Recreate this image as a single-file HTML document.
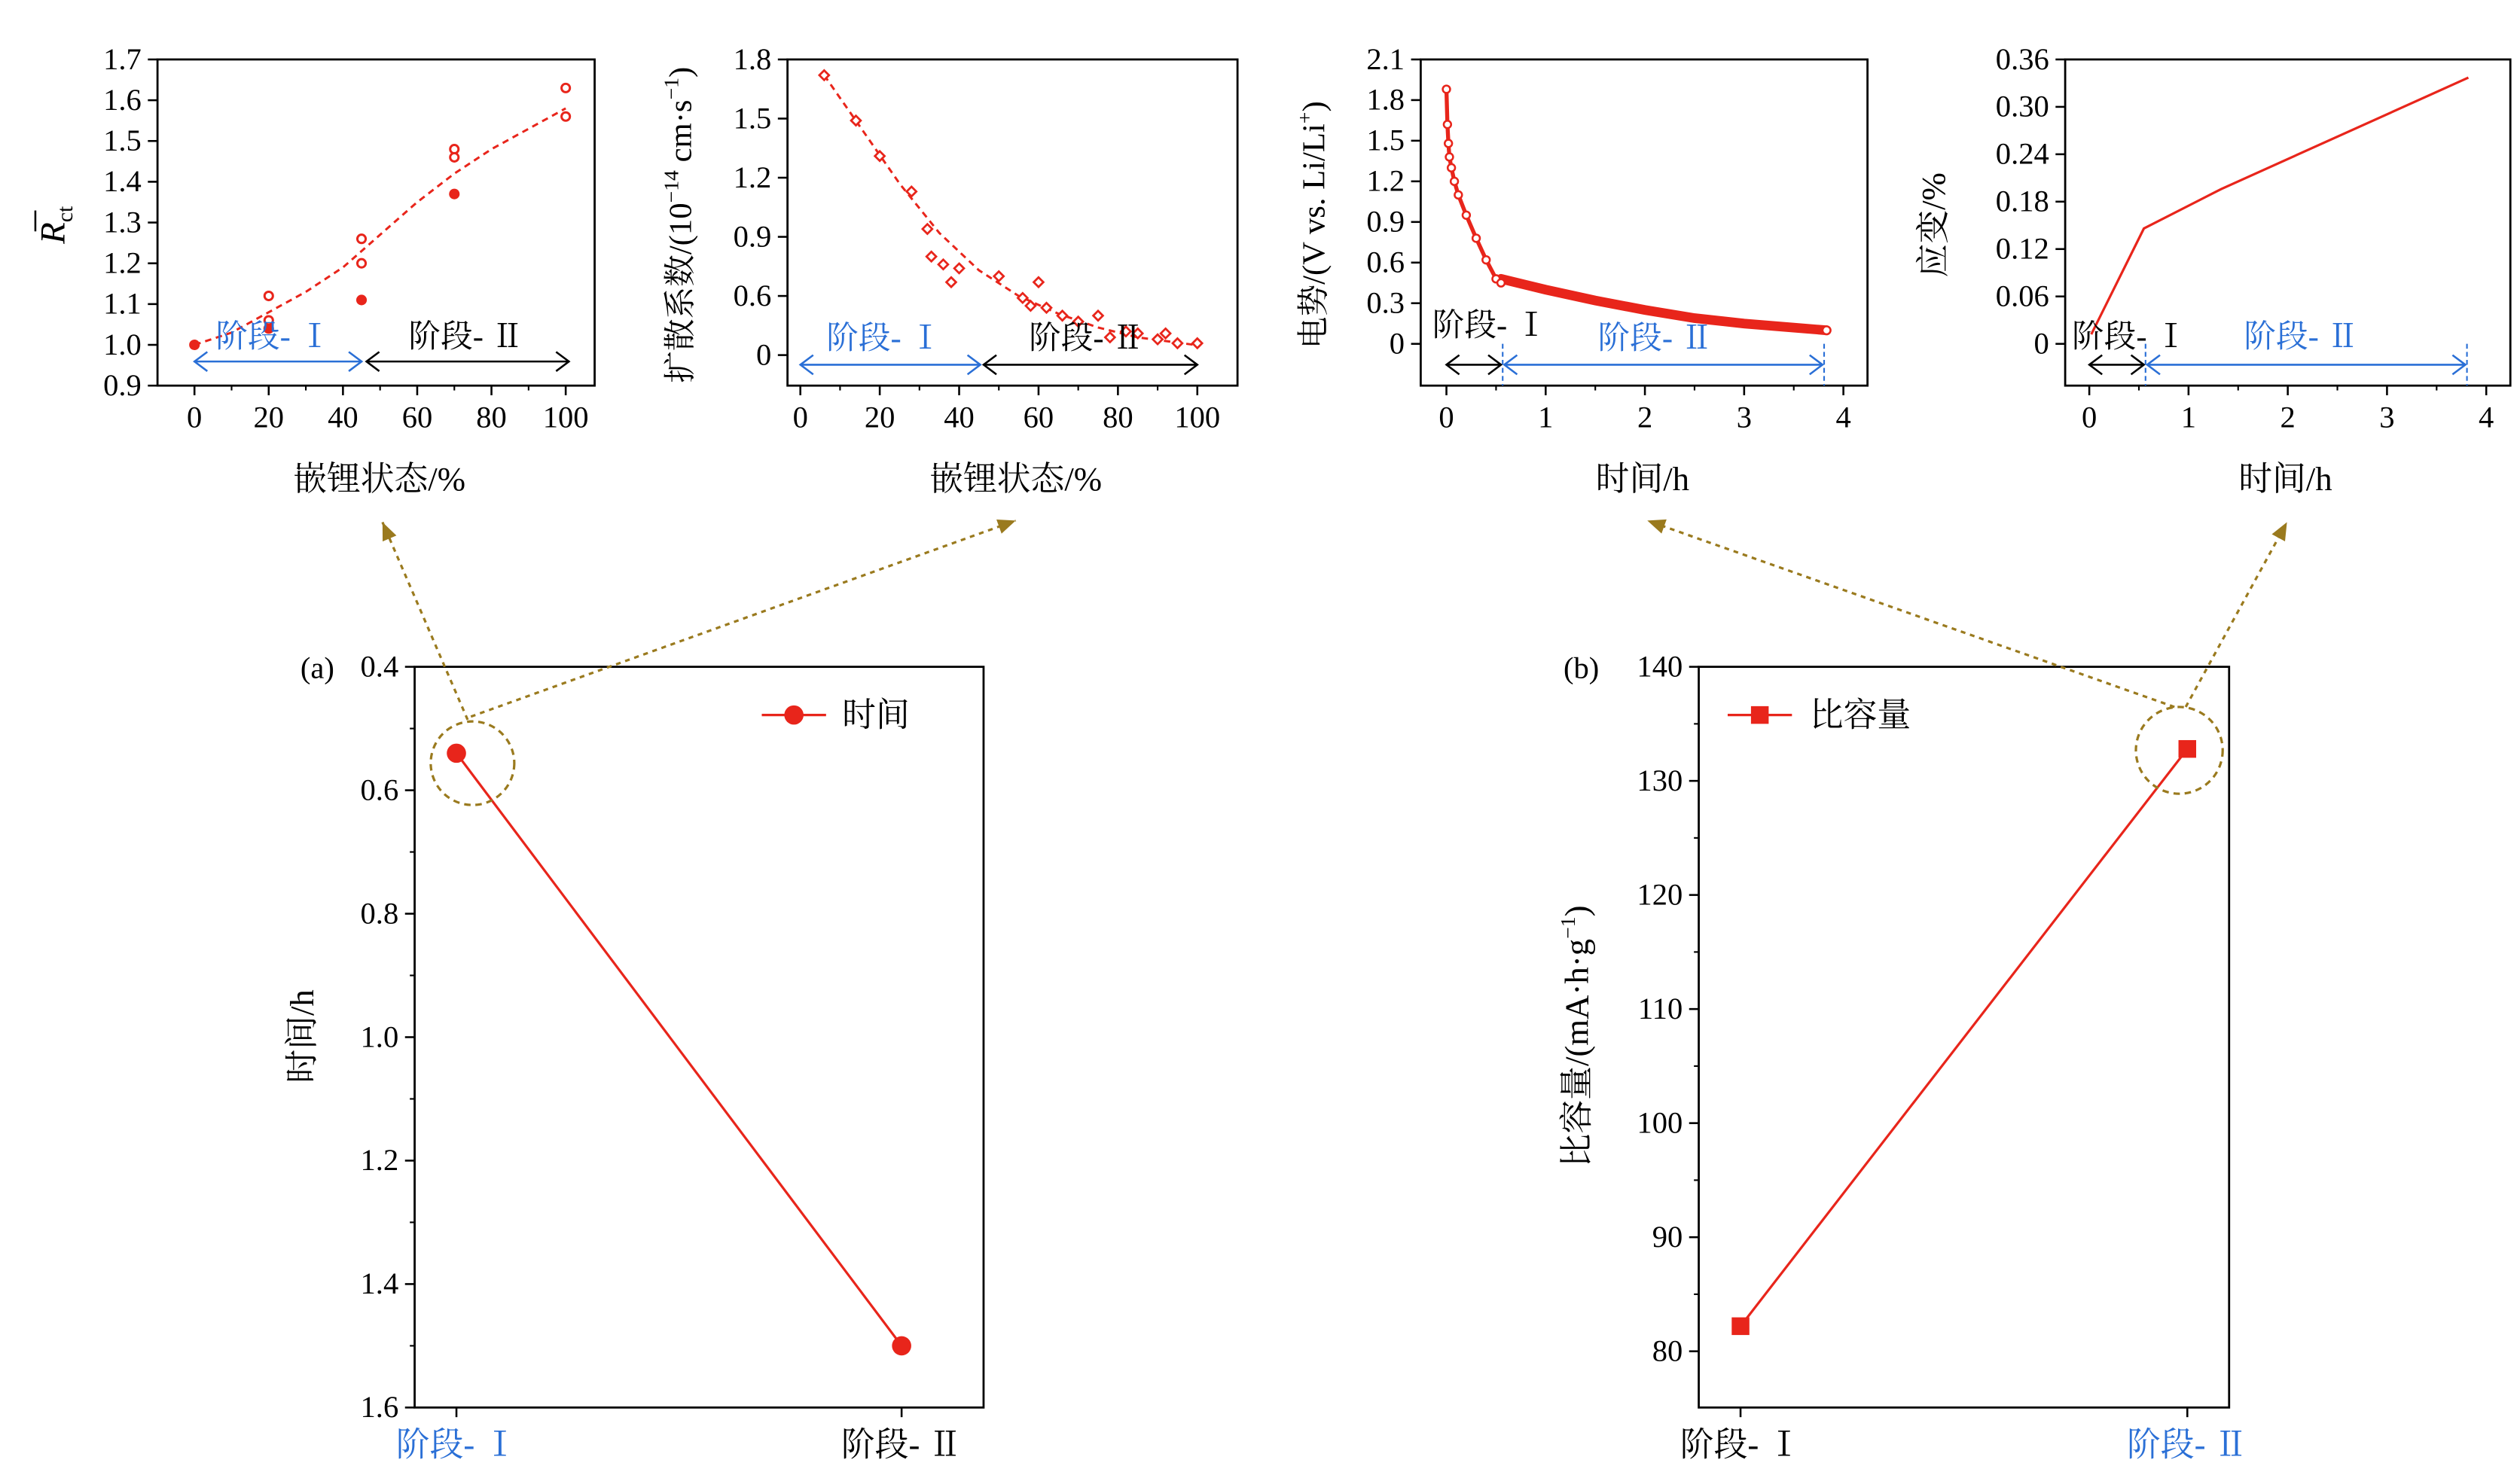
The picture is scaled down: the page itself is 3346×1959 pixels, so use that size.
<!DOCTYPE html>
<html><head><meta charset="utf-8"><style>
html,body{margin:0;padding:0;background:#fff;}
svg{display:block;}
text{font-family:"Liberation Serif","Noto Serif CJK SC",serif;fill:#000;}
</style></head><body>
<svg id="fig" xmlns="http://www.w3.org/2000/svg" width="3346" height="1959" viewBox="0 0 1568 918" preserveAspectRatio="none"></svg>
<script>
// ---- data ----
const p1X = [0,20,20,20,45,45,45,70,70,70,100,100];
const p1Y = [1.0,1.12,1.06,1.04,1.26,1.20,1.11,1.48,1.46,1.37,1.63,1.56];
const p1FitX = [0,10,20,30,40,50,60,70,80,90,100];
const p1FitY = [1.0,1.03,1.08,1.13,1.19,1.27,1.35,1.42,1.48,1.53,1.58];
const p1YTicks = [0.9,1.0,1.1,1.2,1.3,1.4,1.5,1.6,1.7];
const pctTicks = [0,20,40,60,80,100];

const p2X = [6,14,20,28,32,33,36,38,40,50,56,58,60,62,66,70,75,78,82,85,90,92,95,100];
const p2Y = [1.72,1.49,1.31,1.13,0.94,0.80,0.76,0.67,0.74,0.70,0.59,0.55,0.67,0.54,0.50,0.47,0.50,0.39,0.42,0.41,0.38,0.41,0.36,0.36];
const p2FitX = [6,15,25,35,45,55,65,75,85,100];
const p2FitY = [1.72,1.46,1.17,0.92,0.73,0.60,0.51,0.44,0.39,0.35];
const p2YTicks = [0.3,0.6,0.9,1.2,1.5,1.8];
const p2YLabels = ["0","0.6","0.9","1.2","1.5","1.8"];

const p3T = [0,0.01,0.02,0.03,0.05,0.08,0.12,0.2,0.3,0.4,0.5,0.55];
const p3V = [1.88,1.62,1.48,1.38,1.30,1.20,1.10,0.95,0.78,0.62,0.48,0.45];
const p3T2 = [0.55,1,1.5,2,2.5,3,3.5,3.83];
const p3V2 = [0.48,0.40,0.32,0.25,0.19,0.15,0.12,0.10];
const p3YTicks = [0,0.3,0.6,0.9,1.2,1.5,1.8,2.1];
const timeTicks = [0,1,2,3,4];

const p4T = [0.02,0.55,1.33,3.82];
const p4S = [0.012,0.146,0.196,0.337];
const p4YTicks = [0,0.06,0.12,0.18,0.24,0.30,0.36];

const stages = ["阶段- Ⅰ","阶段- Ⅱ"];
const aTime = [0.54,1.50];
const aYTicks = [0.4,0.6,0.8,1.0,1.2,1.4,1.6];
const bCap = [82.2,132.8];
const bYTicks = [80,90,100,110,120,130,140];

const RED = "#e8251b", BLUE = "#2a6fd6", GOLD = "#9a7a1e";
const svg = document.getElementById('fig');
const NS = "http://www.w3.org/2000/svg";
function el(tag, attrs, name, inter, parent){
  const e = document.createElementNS(NS, tag);
  for (const k in attrs) e.setAttribute(k, attrs[k]);
  
  
  (parent||svg).appendChild(e);
  return e;
}
function txt(x,y,s,name,opt){
  opt = opt||{};
  const a = {x:x,y:y,'font-size':opt.fs||19,'text-anchor':opt.anchor||'middle'};
  if (opt.fill) a.fill = opt.fill;
  if (opt.rot) a.transform = `rotate(${opt.rot} ${x} ${y})`;
  const t = el('text', a, name, false);
  t.textContent = s;
  if (opt.fill) t.style.fill = opt.fill;
  return t;
}
function lin(d0,d1,r0,r1){ return v => r0 + (v-d0)/(d1-d0)*(r1-r0); }
function frame(x0,y0,x1,y1,name){
  el('rect',{x:x0,y:y0,width:x1-x0,height:y1-y0,fill:'none',stroke:'#000','stroke-width':1.3},name,false);
}
function yTicks(ticks,ys,x0,labels,name,minor){
  ticks.forEach((v,i)=>{
    const y = ys(v);
    el('line',{x1:x0-6,y1:y,x2:x0,y2:y,stroke:'#000','stroke-width':1.2},name+'-tick',false);
    txt(x0-10,y+6,labels?labels[i]:String(v),name+'-label',{anchor:'end'});
    if (minor && i<ticks.length-1){
      const ym = ys((v+ticks[i+1])/2);
      el('line',{x1:x0-3,y1:ym,x2:x0,y2:ym,stroke:'#000','stroke-width':1},name+'-minor-tick',false);
    }
  });
}
function xTicks(ticks,xs,y0,name,minor){
  ticks.forEach((v,i)=>{
    const x = xs(v);
    el('line',{x1:x,y1:y0,x2:x,y2:y0+6,stroke:'#000','stroke-width':1.2},name+'-tick',false);
    txt(x,y0+26,String(v),name+'-label');
    if (minor && i<ticks.length-1){
      const xm = xs((v+ticks[i+1])/2);
      el('line',{x1:xm,y1:y0,x2:xm,y2:y0+3,stroke:'#000','stroke-width':1},name+'-minor-tick',false);
    }
  });
}
function path(xsArr,ysArr,xs,ys){
  return xsArr.map((v,i)=>(i?'L':'M')+xs(v).toFixed(2)+','+ys(ysArr[i]).toFixed(2)).join(' ');
}
function dblArrow(x0,x1,y,color,name){
  el('line',{x1:x0,y1:y,x2:x1,y2:y,stroke:color,'stroke-width':1.2},name,false);
  el('path',{d:`M${x0+8},${y-6} L${x0},${y} L${x0+8},${y+6}`,fill:'none',stroke:color,'stroke-width':1.2},name+'-head-left',false);
  el('path',{d:`M${x1-8},${y-6} L${x1},${y} L${x1-8},${y+6}`,fill:'none',stroke:color,'stroke-width':1.2},name+'-head-right',false);
}

// ---- panel 1 ----
{
  const xs = lin(0,100,121,352), ys = lin(0.9,1.7,240,37);
  frame(98,37,370,240,'rct-plot-frame');
  yTicks(p1YTicks,ys,98,p1YTicks.map(v=>v.toFixed(1)),'rct-y-tick');
  xTicks(pctTicks,xs,240,'rct-x-tick',true);
  el('path',{d:path(p1FitX,p1FitY,xs,ys),fill:'none',stroke:RED,'stroke-width':1.4,'stroke-dasharray':'4,3'},'rct-fit-curve',false);
  p1X.forEach((v,i)=>{
    el('circle',{cx:xs(v),cy:ys(p1Y[i]),r:2.6,fill:(i%3===0)?RED:'#fff',stroke:RED,'stroke-width':1.4},'rct-point',false);
  });
  dblArrow(121,225,225,BLUE,'rct-stage1-arrow');
  dblArrow(228,354,225,'#000','rct-stage2-arrow');
  txt(170,216,stages[0],'rct-stage1-label',{fill:BLUE,fs:20});
  txt(290,216,stages[1],'rct-stage2-label',{fs:20});
  const t = el('text',{x:40,y:140,'font-size':22,'text-anchor':'middle',transform:'rotate(-90 40 140)','font-style':'italic'},'rct-y-axis-title',false);
  t.innerHTML = 'R<tspan font-style="normal" font-size="14" dy="5">ct</tspan>';
  el('line',{x1:22,y1:131,x2:22,y2:144,stroke:'#000','stroke-width':1.2},'rct-y-axis-title-bar',false);
  txt(236,305,'嵌锂状态/%','rct-x-axis-title',{fs:21});
}
// ---- panel 2 ----
{
  const xs = lin(0,100,498,745), ys = lin(0.3,1.8,221,37);
  frame(490,37,770,240,'diffusion-plot-frame');
  yTicks(p2YTicks,ys,490,p2YLabels,'diffusion-y-tick');
  xTicks(pctTicks,xs,240,'diffusion-x-tick',true);
  el('path',{d:path(p2FitX,p2FitY,xs,ys),fill:'none',stroke:RED,'stroke-width':1.4,'stroke-dasharray':'4,3'},'diffusion-fit-curve',false);
  p2X.forEach((v,i)=>{
    const x = xs(v), y = ys(p2Y[i]);
    el('path',{d:`M${x},${y-3} L${x+3},${y} L${x},${y+3} L${x-3},${y} Z`,fill:'#fff',stroke:RED,'stroke-width':1.3},'diffusion-point',false);
  });
  dblArrow(498,610,227,BLUE,'diffusion-stage1-arrow');
  dblArrow(612,745,227,'#000','diffusion-stage2-arrow');
  txt(550,217,stages[0],'diffusion-stage1-label',{fill:BLUE,fs:20});
  txt(676,217,stages[1],'diffusion-stage2-label',{fs:20});
  const t = el('text',{x:430,y:140,'font-size':20,'text-anchor':'middle',transform:'rotate(-90 430 140)'},'diffusion-y-axis-title',false);
  t.innerHTML = '扩散系数/(10<tspan font-size="13" dy="-8">−14</tspan><tspan dy="8"> cm·s</tspan><tspan font-size="13" dy="-8">−1</tspan><tspan dy="8">)</tspan>';
  txt(632,305,'嵌锂状态/%','diffusion-x-axis-title',{fs:21});
}
// ---- panel 3 ----
{
  const xs = lin(0,4,900,1147), ys = lin(0,2.1,214,37);
  frame(884,37,1162,240,'potential-plot-frame');
  yTicks(p3YTicks,ys,884,p3YTicks.map(v=>v===0?'0':v.toFixed(1)),'potential-y-tick');
  xTicks(timeTicks,xs,240,'potential-x-tick',true);
  el('path',{d:path(p3T,p3V,xs,ys),fill:'none',stroke:RED,'stroke-width':2.5},'potential-curve-stage1',false);
  el('path',{d:path(p3T2,p3V2,xs,ys),fill:'none',stroke:RED,'stroke-width':6,'stroke-linecap':'round'},'potential-curve-stage2',false);
  p3T.forEach((v,i)=>{
    el('circle',{cx:xs(v),cy:ys(p3V[i]),r:2.3,fill:'#fff',stroke:RED,'stroke-width':1.2},'potential-point',false);
  });
  el('circle',{cx:xs(3.83),cy:ys(0.10),r:2.5,fill:'#fff',stroke:RED,'stroke-width':1.2},'potential-end-point',false);
  el('line',{x1:935,y1:214,x2:935,y2:240,stroke:BLUE,'stroke-width':1,'stroke-dasharray':'3,2'},'potential-stage-divider',false);
  el('line',{x1:1135,y1:214,x2:1135,y2:240,stroke:BLUE,'stroke-width':1,'stroke-dasharray':'3,2'},'potential-stage-end',false);
  dblArrow(900,934,227,'#000','potential-stage1-arrow');
  dblArrow(936,1134,227,BLUE,'potential-stage2-arrow');
  txt(927,209,stages[0],'potential-stage1-label',{fs:20});
  txt(1030,217,stages[1],'potential-stage2-label',{fill:BLUE,fs:20});
  const t = el('text',{x:824,y:140,'font-size':20,'text-anchor':'middle',transform:'rotate(-90 824 140)'},'potential-y-axis-title',false);
  t.innerHTML = '电势/(V vs. Li/Li<tspan font-size="13" dy="-8">+</tspan><tspan dy="8">)</tspan>';
  txt(1022,305,'时间/h','potential-x-axis-title',{fs:21});
}
// ---- panel 4 ----
{
  const xs = lin(0,4,1300,1547), ys = lin(0,0.36,214,37);
  frame(1285,37,1562,240,'strain-plot-frame');
  yTicks(p4YTicks,ys,1285,p4YTicks.map(v=>v===0?'0':v.toFixed(2)),'strain-y-tick');
  xTicks(timeTicks,xs,240,'strain-x-tick',true);
  el('path',{d:path(p4T,p4S,xs,ys),fill:'none',stroke:RED,'stroke-width':1.5},'strain-curve',false);
  el('line',{x1:1335,y1:214,x2:1335,y2:240,stroke:BLUE,'stroke-width':1,'stroke-dasharray':'3,2'},'strain-stage-divider',false);
  el('line',{x1:1535,y1:214,x2:1535,y2:240,stroke:BLUE,'stroke-width':1,'stroke-dasharray':'3,2'},'strain-stage-end',false);
  dblArrow(1300,1334,227,'#000','strain-stage1-arrow');
  dblArrow(1336,1534,227,BLUE,'strain-stage2-arrow');
  txt(1325,216,stages[0],'strain-stage1-label',{fs:20});
  txt(1432,216,stages[1],'strain-stage2-label',{fill:BLUE,fs:20});
  txt(1210,140,'应变/%','strain-y-axis-title',{fs:21,rot:-90});
  txt(1422,305,'时间/h','strain-x-axis-title',{fs:21});
}
// ---- panel a ----
{
  const xs = i => 284 + i*(561-284), ys = lin(0.4,1.6,415,876);
  frame(258,415,612,876,'time-plot-frame');
  yTicks(aYTicks,ys,258,aYTicks.map(v=>v.toFixed(1)),'time-y-tick',true);
  stages.forEach((s,i)=>{
    el('line',{x1:xs(i),y1:876,x2:xs(i),y2:882,stroke:'#000','stroke-width':1.2},'time-x-tick',false);
    txt(xs(i),906,s,'time-x-label-'+(i+1),{fs:21,fill:i===0?BLUE:null});
  });
  el('path',{d:`M${xs(0)},${ys(aTime[0])} L${xs(1)},${ys(aTime[1])}`,stroke:RED,'stroke-width':1.5,fill:'none'},'time-line',false);
  aTime.forEach((v,i)=>{ el('circle',{cx:xs(i),cy:ys(v),r:6,fill:RED},'time-point',false); });
  el('line',{x1:474,y1:445,x2:514,y2:445,stroke:RED,'stroke-width':1.5},'time-legend-line',false);
  el('circle',{cx:494,cy:445,r:6,fill:RED},'time-legend-marker',false);
  txt(524,452,'时间','time-legend-label',{anchor:'start',fs:21});
  txt(208,422,'(a)','panel-a-label',{anchor:'end',fs:19});
  txt(195,645,'时间/h','time-y-axis-title',{fs:21,rot:-90});
  el('circle',{cx:294,cy:475,r:26,fill:'none',stroke:GOLD,'stroke-width':1.5,'stroke-dasharray':'4,3'},'time-highlight-circle',false);
}
// ---- panel b ----
{
  const xs = i => 1083 + i*(1361-1083), ys = lin(80,140,841,415);
  frame(1057,415,1387,876,'capacity-plot-frame');
  yTicks(bYTicks,ys,1057,null,'capacity-y-tick',true);
  stages.forEach((s,i)=>{
    el('line',{x1:xs(i),y1:876,x2:xs(i),y2:882,stroke:'#000','stroke-width':1.2},'capacity-x-tick',false);
    txt(xs(i),906,s,'capacity-x-label-'+(i+1),{fs:21,fill:i===1?BLUE:null});
  });
  el('path',{d:`M${xs(0)},${ys(bCap[0])} L${xs(1)},${ys(bCap[1])}`,stroke:RED,'stroke-width':1.5,fill:'none'},'capacity-line',false);
  bCap.forEach((v,i)=>{ el('rect',{x:xs(i)-5.5,y:ys(v)-5.5,width:11,height:11,fill:RED},'capacity-point',false); });
  el('line',{x1:1075,y1:445,x2:1115,y2:445,stroke:RED,'stroke-width':1.5},'capacity-legend-line',false);
  el('rect',{x:1089.5,y:439.5,width:11,height:11,fill:RED},'capacity-legend-marker',false);
  txt(1126,452,'比容量','capacity-legend-label',{anchor:'start',fs:21});
  txt(995,422,'(b)','panel-b-label',{anchor:'end',fs:19});
  const t = el('text',{x:988,y:645,'font-size':21,'text-anchor':'middle',transform:'rotate(-90 988 645)'},'capacity-y-axis-title',false);
  t.innerHTML = '比容量/(mA·h·g<tspan font-size="13" dy="-8">−1</tspan><tspan dy="8">)</tspan>';
  el('circle',{cx:1356,cy:467,r:27,fill:'none',stroke:GOLD,'stroke-width':1.5,'stroke-dasharray':'4,3'},'capacity-highlight-circle',false);
}
// ---- connector arrows ----
function conn(x0,y0,x1,y1,name){
  el('line',{x1:x0,y1:y0,x2:x1,y2:y1,stroke:GOLD,'stroke-width':1.5,'stroke-dasharray':'3,3'},name,false);
  const a = Math.atan2(y1-y0,x1-x0), L=12, w=0.4;
  const p1=[x1-L*Math.cos(a-w),y1-L*Math.sin(a-w)], p2=[x1-L*Math.cos(a+w),y1-L*Math.sin(a+w)];
  el('path',{d:`M${x1},${y1} L${p1[0]},${p1[1]} L${p2[0]},${p2[1]} Z`,fill:GOLD},name+'-head',false);
}
conn(291,448,238,325,'connector-to-rct');
conn(293,446,632,324,'connector-to-diffusion');
conn(1353,440,1025,324,'connector-to-potential');
conn(1360,440,1423,325,'connector-to-strain');
</script>
</body></html>
